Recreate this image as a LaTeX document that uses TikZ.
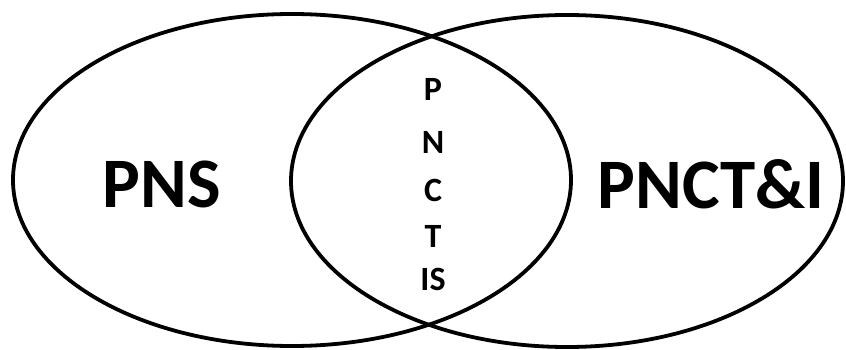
\documentclass[tikz,border=0pt]{standalone}
\usepackage{fontspec}
\setmainfont{Carlito}
\begin{document}
\begin{tikzpicture}[x=1pt,y=1pt,
  ring/.style={draw=black,line width=3.8pt},
  bigtxt/.style={font=\bfseries\fontsize{71}{71}\selectfont,inner sep=0pt},
  midtxt/.style={font=\bfseries\fontsize{34}{34}\selectfont,inner sep=0pt}]
\useasboundingbox (0,0) rectangle (846,349);
\fill[white] (0,0) rectangle (846,349);
\draw[ring] (292,169) ellipse [x radius=279, y radius=166];
\draw[ring] (567,168) ellipse [x radius=276, y radius=166];
\node[bigtxt] (pns) at (162,165) {PNS};
\node[bigtxt] (pncti) at (711,165) {PNCT\&I};
\foreach \t/\y/\n in {P/260/a,N/207/b,C/159/c,T/113/d,IS/70/e}{
  \node[midtxt] (m\n) at (433,\y) {\t};
}
\end{tikzpicture}
\end{document}
